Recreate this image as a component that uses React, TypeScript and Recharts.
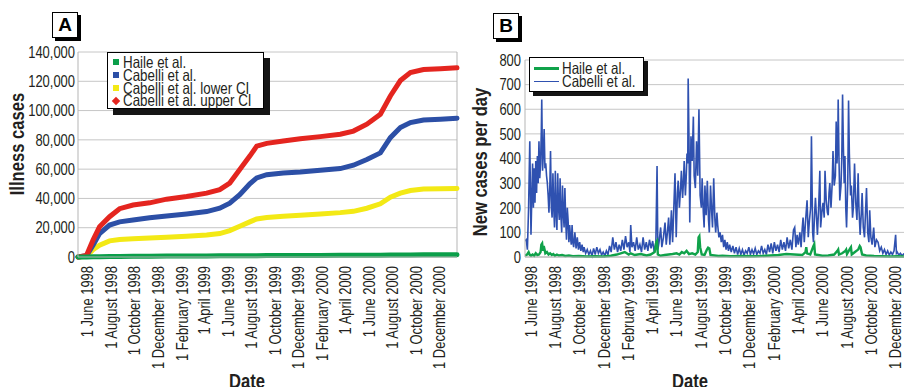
import React from 'react';
import { LineChart, Line, XAxis, YAxis, CartesianGrid, ReferenceLine } from 'recharts';

const FONT = '"Liberation Sans", Arial, sans-serif';
const NARROW = 0.81;
const TEXT = '#231f20';
const GRID = '#c6c6c6';
const GREEN = '#0b9f4a';
const BLUE = '#2c4fa6';
const YELLOW = '#f3e915';
const RED = '#e4251f';
const BLUE_B = '#2f51b0';
const GREEN_B = '#10a24a';
const TICK_FS = 16;

// x tick dates and labels (shared by both panels)
const tickDates = ['1998-06-01', '1998-08-01', '1998-10-01', '1998-12-01', '1999-02-01', '1999-04-01', '1999-06-01', '1999-08-01', '1999-10-01', '1999-12-01', '2000-02-01', '2000-04-01', '2000-06-01', '2000-08-01', '2000-10-01', '2000-12-01'];
const tickLabels = ['1 June 1998', '1 August 1998', '1 October 1998', '1 December 1998', '1 February 1999', '1 April 1999', '1 June 1999', '1 August 1999', '1 October 1999', '1 December 1999', '1 February 2000', '1 April 2000', '1 June 2000', '1 August 2000', '1 October 2000', '1 December 2000'];
const DAY0 = Date.UTC(1998, 5, 1);
const tickDays = tickDates.map((d) => Math.round((Date.parse(d) - DAY0) / 86400000));
const labelByDay: Record<number, string> = {};
tickDays.forEach((d, i) => { labelByDay[d] = tickLabels[i]; });

// Panel A: cumulative illness cases (days since 1 June 1998)
const cumDays = [-25, -3, 14, 31, 57, 83, 118, 161, 205, 257, 309, 343, 369, 395, 421, 439, 465, 508, 552, 604, 656, 690, 725, 760, 786, 812, 838, 872, 916, 959];
const haileCum = [0, 50, 150, 250, 350, 420, 480, 550, 620, 700, 760, 800, 830, 860, 900, 920, 950, 1000, 1050, 1100, 1150, 1180, 1220, 1280, 1330, 1400, 1450, 1500, 1550, 1600];
const cabelliCum = [0, 800, 8000, 16000, 21800, 24000, 25200, 26800, 28000, 29400, 31000, 33300, 36700, 42500, 50000, 54000, 56200, 57400, 58000, 59200, 60400, 62700, 66600, 71100, 81500, 88400, 91800, 93600, 94100, 94800];
const lowerCum = [0, 500, 5000, 8000, 11000, 12000, 12400, 12900, 13500, 14200, 15000, 16000, 18000, 21000, 24000, 26000, 27000, 27800, 28500, 29400, 30300, 31200, 33300, 36300, 40800, 43600, 45400, 46400, 46600, 46800];
const upperCum = [0, 1000, 11500, 20600, 27500, 33000, 35500, 37000, 39500, 41300, 43600, 46000, 50500, 59700, 68900, 75700, 77600, 79200, 80800, 82200, 83800, 86000, 90700, 97500, 110000, 120500, 126000, 128000, 128500, 129200];
const yTicksA = [0, 20000, 40000, 60000, 80000, 100000, 120000, 140000];

// Panel B: new cases per day [day, cases]
const cabelliDaily: [number, number][] = [
  [-15, 65], [-12, 70], [-9, 30], [-6, 200], [-3, 470], [0, 90], [2, 240], [4, 380], [6, 200], [8, 360], [10, 220], [12, 390], [14, 260], [16, 410], [18, 300], [20, 470], [22, 320], [24, 380], [26, 520], [27, 640], [29, 350], [31, 420], [33, 520], [35, 360], [37, 380], [39, 330], [41, 300], [43, 250], [45, 180], [47, 270], [49, 430], [51, 200], [53, 160], [55, 340], [57, 200], [59, 120], [61, 350], [63, 180], [65, 110], [67, 340], [69, 200], [71, 150], [73, 320], [75, 170], [77, 100], [79, 290], [81, 180], [83, 120], [85, 280], [87, 150], [89, 70], [91, 200], [93, 150], [95, 60], [97, 130], [99, 80], [101, 50], [103, 130], [105, 60], [107, 40], [110, 100], [113, 35], [116, 80], [119, 30], [122, 60], [125, 25], [128, 50], [131, 20],
  [133, 40], [137, 15], [141, 30], [145, 10], [149, 25], [153, 5], [157, 35], [161, 10], [165, 40], [169, 15], [173, 30], [177, 8], [181, 20], [185, 5], [189, 25], [193, 10], [197, 45], [201, 20], [205, 80], [209, 30], [213, 60], [217, 20], [221, 50], [225, 25], [229, 70], [233, 30], [237, 85], [241, 40], [245, 60], [248, 20], [250, 130], [253, 40], [257, 60], [261, 25], [265, 80], [269, 30], [273, 50], [277, 20], [281, 80], [285, 30], [289, 60], [293, 25], [297, 70], [301, 35], [305, 65], [309, 20],
  [313, 60], [316, 370], [318, 30], [321, 60], [325, 120], [328, 40], [332, 80], [336, 140], [339, 50], [342, 100], [345, 160], [348, 50], [352, 190], [355, 60], [358, 200], [361, 340], [364, 80], [367, 260], [369, 310], [372, 200], [375, 280], [377, 350], [380, 240], [382, 300], [384, 390], [387, 250], [389, 320], [391, 420], [393, 380], [394, 725], [396, 480], [398, 140], [401, 490], [404, 390], [407, 570], [409, 330], [412, 280], [415, 470], [418, 330], [421, 600], [424, 250], [427, 200], [429, 320], [432, 180], [434, 120], [436, 290], [439, 170], [442, 310], [445, 150], [447, 100], [450, 290], [453, 180], [455, 120], [458, 320], [461, 150], [463, 100], [466, 180], [468, 130], [471, 80], [474, 100], [477, 60], [480, 90], [483, 40], [486, 70], [489, 30], [492, 60], [495, 25], [498, 50],
  [502, 20], [506, 45], [510, 15], [514, 40], [518, 10], [522, 35], [526, 10], [530, 30], [534, 8], [538, 25], [542, 15], [546, 40], [550, 10], [554, 30], [558, 12], [562, 35], [566, 10], [570, 25], [574, 15], [578, 45], [582, 15], [586, 30], [590, 10], [594, 50], [598, 20], [602, 55], [606, 15], [610, 60], [614, 25], [618, 50], [622, 20], [626, 70], [630, 30], [634, 60], [638, 25], [642, 80], [646, 35], [650, 70], [654, 30], [658, 110],
  [661, 120], [664, 40], [667, 90], [670, 50], [674, 100], [677, 40], [680, 120], [682, 160], [685, 60], [688, 140], [692, 230], [695, 80], [698, 150], [701, 200], [703, 490], [706, 100], [708, 60], [711, 180], [713, 240], [716, 150], [718, 90], [721, 200], [724, 350], [726, 120], [729, 180], [732, 220], [735, 160], [737, 350], [740, 230], [743, 180], [745, 170], [747, 260], [749, 300], [752, 200], [755, 300], [757, 430], [760, 290], [763, 330], [765, 550], [767, 380], [769, 460], [770, 640], [772, 400], [774, 230], [777, 290], [779, 400], [781, 660], [783, 450], [785, 300], [787, 410], [789, 200], [791, 120], [794, 300], [796, 635], [798, 420], [801, 250], [803, 290], [806, 160], [808, 200], [811, 380], [814, 220], [817, 150], [820, 340], [822, 200], [825, 90], [828, 180], [830, 260], [833, 120], [836, 80], [839, 200], [841, 280], [844, 100], [847, 60], [849, 190], [852, 80], [855, 50], [859, 120], [862, 40], [866, 70], [870, 60], [874, 25], [878, 40], [882, 15], [886, 30], [890, 10], [894, 25], [898, 8], [902, 20], [906, 10], [910, 25], [914, 90], [916, 15], [918, 20], [922, 8], [926, 15], [930, 5], [934, 12], [938, 8], [942, 10],
];
const haileDaily: [number, number][] = [
  [-15, 5], [-10, 10], [-6, 20], [-3, 8], [0, 5], [4, 10], [8, 5], [12, 15], [16, 8], [20, 10], [24, 20], [26, 50], [28, 55], [30, 25], [32, 45], [34, 30], [36, 15], [40, 20], [44, 10], [48, 15], [52, 8], [56, 12], [60, 5], [65, 10], [70, 6], [78, 8], [86, 4], [95, 6], [105, 3], [120, 4], [140, 2], [160, 3], [180, 2], [200, 5], [215, 10], [225, 15], [235, 20], [245, 10], [250, 15], [260, 8], [275, 12], [290, 6], [300, 10], [310, 20], [314, 60], [316, 65], [318, 10], [325, 5], [335, 8], [345, 10], [355, 12], [365, 15], [372, 10], [378, 20], [384, 15], [390, 25], [396, 12], [404, 15], [412, 10], [418, 20], [420, 80], [422, 85], [424, 40], [428, 10], [435, 8], [441, 30], [444, 38], [447, 35], [450, 8], [460, 6], [470, 4], [480, 5], [500, 3], [530, 4], [560, 3], [590, 5], [620, 8], [640, 12], [660, 10], [680, 8], [688, 20], [690, 40], [692, 15], [700, 10], [708, 45], [710, 52], [712, 10], [720, 8], [730, 5], [745, 6], [760, 10], [768, 25], [770, 30], [772, 10], [780, 15], [788, 25], [790, 30], [792, 12], [800, 35], [802, 40], [804, 10], [812, 20], [820, 30], [824, 45], [826, 40], [830, 10], [840, 6], [860, 4], [880, 3], [900, 2], [920, 3], [942, 2],
];
const yTicksB = [0, 100, 200, 300, 400, 500, 600, 700, 800];

const cumData = cumDays.map((d, i) => ({ day: d, haile: haileCum[i], cabelli: cabelliCum[i], lower: lowerCum[i], upper: upperCum[i] }));
const cabelliData = cabelliDaily.map(([day, v]) => ({ day, v }));
const haileData = haileDaily.map(([day, v]) => ({ day, v }));

const XTick = (props: any) => {
  const { x, y, payload } = props;
  return (
    <text transform={`translate(${x} ${y}) rotate(-90) scale(${NARROW} 1)`} x={0} y={0} textAnchor="end" dy="0.36em" fontSize={TICK_FS} fill={TEXT} fontFamily={FONT}>
      {labelByDay[payload.value]}
    </text>
  );
};

const YTick = (props: any) => {
  const { x, y, payload, fmt } = props;
  return (
    <text transform={`translate(${x} ${y}) scale(${NARROW} 1)`} x={0} y={0} textAnchor="end" dy="0.36em" fontSize={TICK_FS} fill={TEXT} fontFamily={FONT}>
      {fmt ? fmt(payload.value) : payload.value}
    </text>
  );
};

const fmtThousands = (v: number) => v.toLocaleString('en-US');

const Narrow = ({ children, style }: any) => (
  <span style={{ display: 'inline-block', transform: `scaleX(${NARROW})`, transformOrigin: 'left center', whiteSpace: 'nowrap', ...style }}>{children}</span>
);

const Box = ({ left, top, w, h, shadow, children }: any) => (
  <div style={{ position: 'absolute', left, top, width: w, height: h, boxSizing: 'border-box', border: '1px solid #000', background: '#fff', boxShadow: `${shadow}px ${shadow}px 0 #151515` }}>
    {children}
  </div>
);

const PanelLetter = ({ left, top, letter }: any) => (
  <div style={{ position: 'absolute', left, top, width: 26, height: 26, boxSizing: 'border-box', border: '1.5px solid #000', background: '#fff', boxShadow: '3px 3px 0 #000', fontFamily: FONT, fontWeight: 'bold', fontSize: 19, lineHeight: '23px', textAlign: 'center', color: '#000' }}>
    {letter}
  </div>
);

const Title = ({ x, y, text, rotate }: any) => (
  <div style={{ position: 'absolute', left: x, top: y, transform: `translate(-50%, -50%)${rotate ? ' rotate(-90deg)' : ''} scaleX(${NARROW})`, whiteSpace: 'nowrap', fontFamily: FONT, fontWeight: 'bold', fontSize: 20.5, color: TEXT, lineHeight: '20px' }}>
    {text}
  </div>
);

const legendA = [
  { name: 'Haile et al.', color: GREEN, diamond: false },
  { name: 'Cabelli et al.', color: BLUE, diamond: false },
  { name: 'Cabelli et al. lower CI', color: YELLOW, diamond: false },
  { name: 'Cabelli et al. upper CI', color: RED, diamond: true },
];
const legendB = [
  { name: 'Haile et al.', color: GREEN_B, width: 3 },
  { name: 'Cabelli et al.', color: BLUE_B, width: 1.5 },
];

export default function App() {
  return (
    <div style={{ position: 'absolute', left: 0, top: 0, width: 904, height: 387, overflow: 'hidden', background: '#fff', fontFamily: FONT }}>
      {/* Panel A */}
      <div style={{ position: 'absolute', left: 0, top: 0 }}>
        <LineChart width={470} height={387} data={cumData} margin={{ top: 52, right: 13, bottom: 10, left: 8 }}>
          <CartesianGrid horizontal vertical={false} stroke={GRID} strokeWidth={1} />
          <XAxis dataKey="day" type="number" domain={[-25, 959]} ticks={tickDays} interval={0} tick={<XTick />} tickLine={false} tickSize={0} tickMargin={9} height={120} axisLine={{ stroke: '#b5b5b5' }} />
          <YAxis type="number" domain={[0, 140000]} ticks={yTicksA} width={70} tickLine={false} tickSize={0} tickMargin={3} axisLine={{ stroke: '#b5b5b5' }} tick={<YTick fmt={fmtThousands} />} />
          <ReferenceLine x={959} stroke="#b5b5b5" />
          <Line dataKey="lower" type="linear" stroke={YELLOW} strokeWidth={5} dot={false} isAnimationActive={false} strokeLinecap="round" />
          <Line dataKey="cabelli" type="linear" stroke={BLUE} strokeWidth={5} dot={false} isAnimationActive={false} strokeLinecap="round" />
          <Line dataKey="upper" type="linear" stroke={RED} strokeWidth={5} dot={false} isAnimationActive={false} strokeLinecap="round" />
          <Line dataKey="haile" type="linear" stroke={GREEN} strokeWidth={5} dot={false} isAnimationActive={false} strokeLinecap="round" />
        </LineChart>
      </div>

      {/* Panel B */}
      <div style={{ position: 'absolute', left: 440, top: 0 }}>
        <LineChart width={480} height={387} margin={{ top: 60, right: 12, bottom: 10, left: 10 }}>
          <CartesianGrid horizontal vertical={false} stroke={GRID} strokeWidth={1} />
          <XAxis dataKey="day" type="number" domain={[-15, 945]} ticks={tickDays} interval={0} tick={<XTick />} tickLine={false} tickSize={0} tickMargin={9} height={120} axisLine={{ stroke: '#b5b5b5' }} allowDataOverflow />
          <YAxis type="number" domain={[0, 800]} ticks={yTicksB} width={75} tickLine={false} tickSize={0} tickMargin={4} axisLine={{ stroke: '#b5b5b5' }} tick={<YTick />} />
          <Line data={cabelliData} dataKey="v" type="linear" stroke={BLUE_B} strokeWidth={1.6} dot={false} isAnimationActive={false} />
          <Line data={haileData} dataKey="v" type="linear" stroke={GREEN_B} strokeWidth={2.4} dot={false} isAnimationActive={false} />
        </LineChart>
      </div>

      {/* Axis titles */}
      <Title x={17} y={144} text="Illness cases" rotate />
      <Title x={247} y={381} text="Date" />
      <Title x={480} y={162} text="New cases per day" rotate />
      <Title x={690} y={381} text="Date" />

      {/* Panel letters */}
      <PanelLetter left={52} top={12} letter="A" />
      <PanelLetter left={493} top={13} letter="B" />

      {/* Legend A */}
      <Box left={107} top={52} w={157} h={57} shadow={6}>
        <div style={{ paddingTop: 3 }}>
          {legendA.map((it) => (
            <div key={it.name} style={{ display: 'flex', alignItems: 'center', height: 12.8, whiteSpace: 'nowrap' }}>
              <span style={{ display: 'inline-block', flex: 'none', width: 6, height: 6, marginLeft: 5, marginRight: 4, background: it.color, transform: it.diamond ? 'rotate(45deg)' : 'none' }} />
              <Narrow style={{ fontSize: 16.5, color: TEXT, lineHeight: '13px' }}>{it.name}</Narrow>
            </div>
          ))}
        </div>
      </Box>

      {/* Legend B */}
      <Box left={529} top={57} w={115} h={35} shadow={4}>
        <div style={{ paddingTop: 4 }}>
          {legendB.map((it) => (
            <div key={it.name} style={{ display: 'flex', alignItems: 'center', height: 13, whiteSpace: 'nowrap' }}>
              <span style={{ display: 'inline-block', flex: 'none', width: 25, height: it.width, marginLeft: 4, marginRight: 3, background: it.color }} />
              <Narrow style={{ fontSize: 16.5, color: TEXT, lineHeight: '13px' }}>{it.name}</Narrow>
            </div>
          ))}
        </div>
      </Box>
    </div>
  );
}
